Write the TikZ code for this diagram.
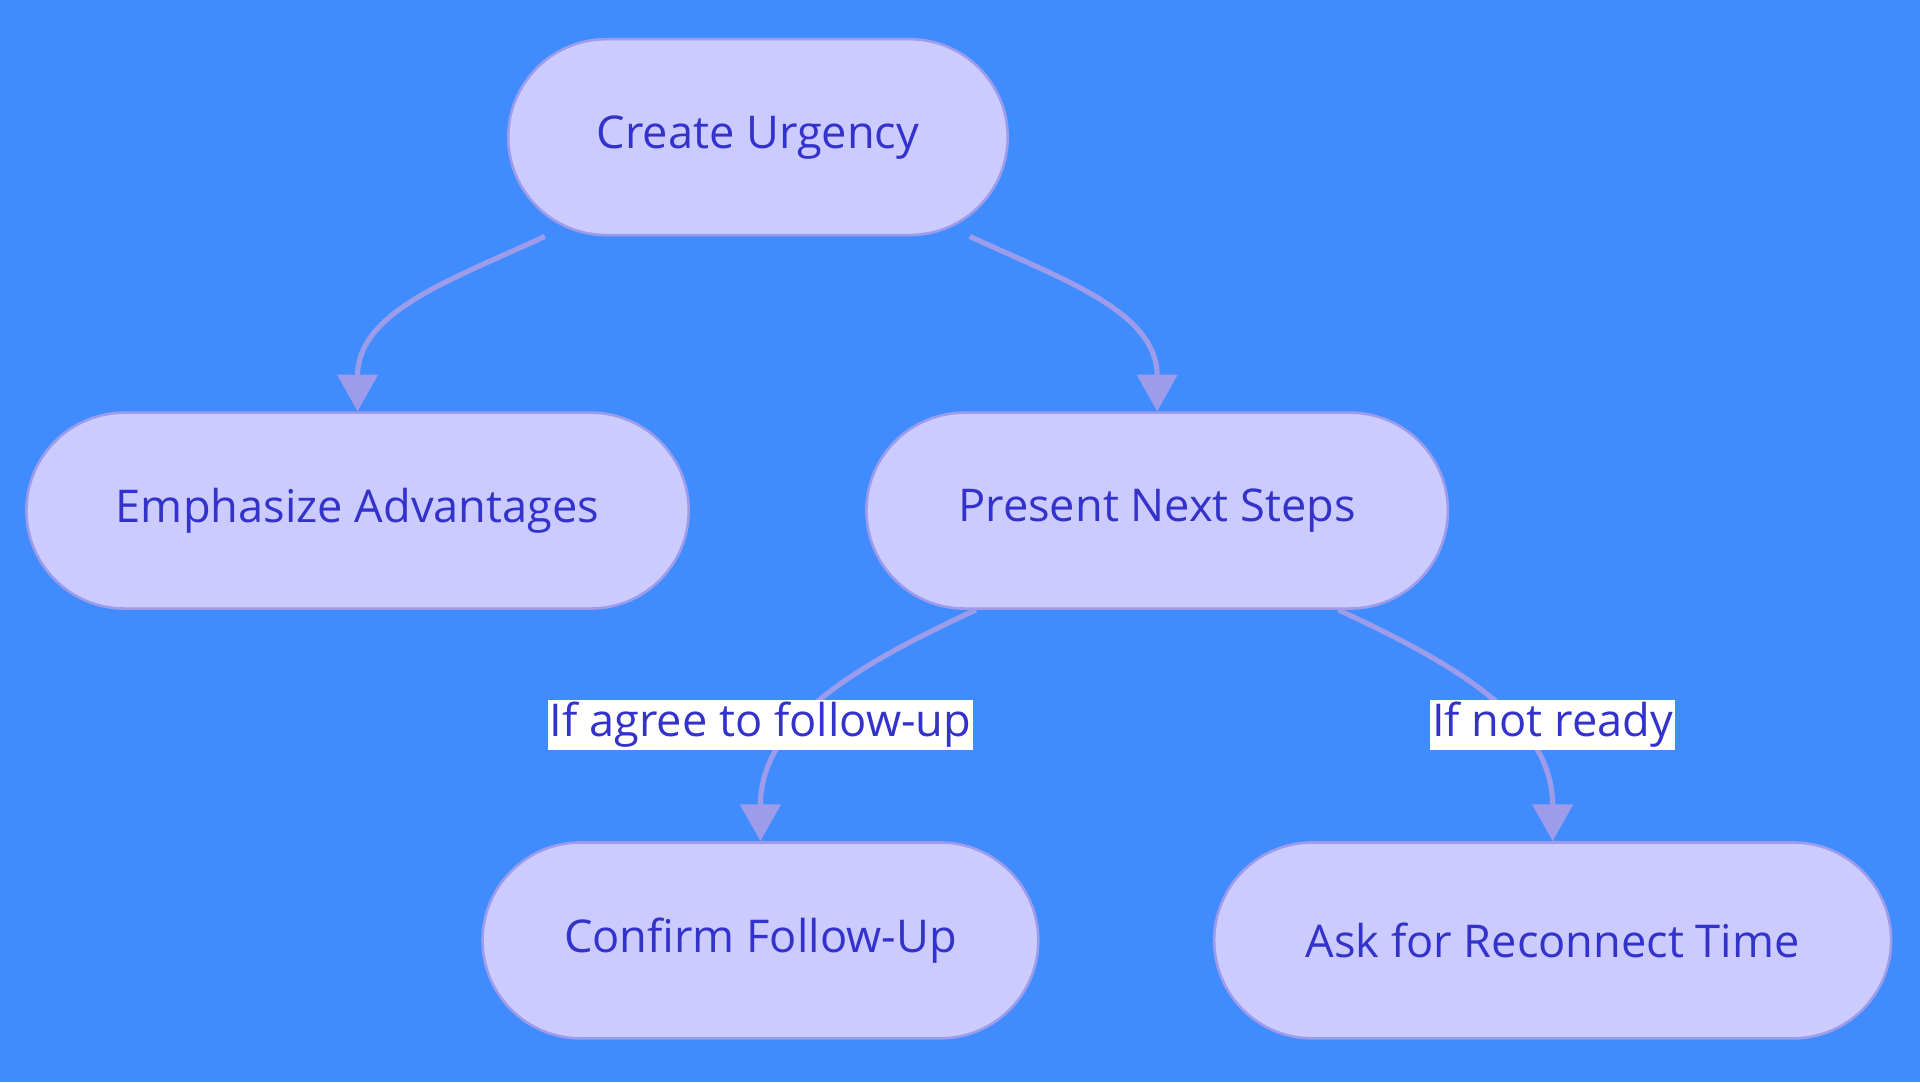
\documentclass[tikz,border=0pt]{standalone}
\usepackage{fontspec}
\setmainfont{Open Sans}
\usetikzlibrary{arrows.meta,positioning}
\definecolor{bgblue}{HTML}{408CFF}
\definecolor{boxfill}{HTML}{CBCBFF}
\definecolor{boxdraw}{HTML}{9C9CEA}
\definecolor{boxtext}{HTML}{3333CC}
\tikzset{
  stage/.style={
    rectangle,
    rounded corners=1.6cm,
    fill=boxfill,
    draw=boxdraw, line width=1.2pt,
    minimum height=3.2cm,
    text=boxtext,
    font=\fontsize{21}{25}\selectfont},
  edge/.style={draw=boxdraw, line width=2.4pt,
    -{Triangle[length=0.6cm,width=0.65cm]}},
  cond/.style={fill=white, text=boxtext, inner sep=1pt,
    font=\fontsize{21}{25}\selectfont},
}
\begin{document}
\begin{tikzpicture}[x=0.02cm, y=-0.02cm]

    %background
    \fill[bgblue] (0,0) rectangle (1568,884);
    \useasboundingbox (0,0) rectangle (1568,884);

    %stages
    \node[stage, minimum width=8.16cm] (urgency) at (619,112) {Create Urgency};
    \node[stage, minimum width=10.82cm] (advantages) at (292,417) {Emphasize Advantages};
    \node[stage, minimum width=9.5cm] (nextsteps) at (945,417) {Present Next Steps};
    \node[stage, minimum width=9.08cm] (confirm) at (621,768) {Confirm Follow-Up};
    \node[stage, minimum width=11.06cm] (reconnect) at (1268,768) {Ask for Reconnect Time};

    %links
    \draw[edge] ([xshift=-3.48cm]urgency.south) to[out=205,in=90] (advantages.north);
    \draw[edge] ([xshift=3.46cm]urgency.south) to[out=-25,in=90] (nextsteps.north);
    \draw[edge] ([xshift=-2.96cm]nextsteps.south) to[out=205,in=90] (confirm.north);
    \draw[edge] ([xshift=2.96cm]nextsteps.south) to[out=-25,in=90] (reconnect.north);

    %conditions
    \node[cond] (agree) at (621,592) {If agree to follow-up};
    \node[cond] (notready) at (1268,592) {If not ready};

\end{tikzpicture}
\end{document}
